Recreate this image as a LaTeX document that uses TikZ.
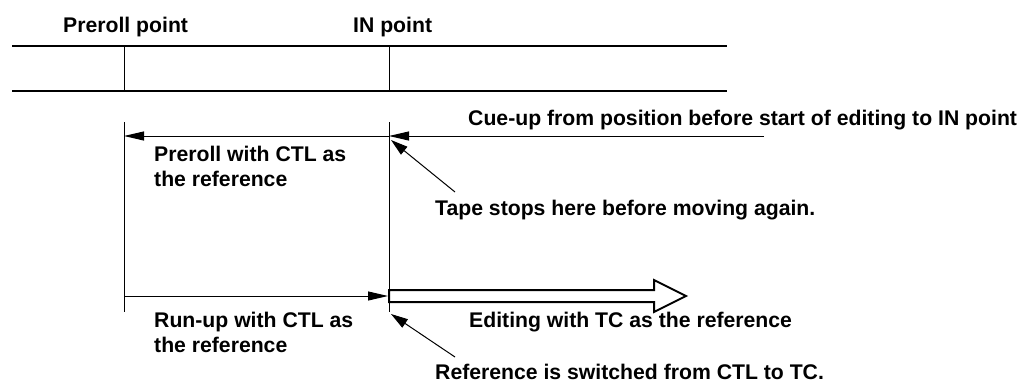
\documentclass[tikz,border=0pt]{standalone}
\usepackage{fontspec}
\setmainfont{Liberation Sans}
\usetikzlibrary{arrows.meta}
\newcommand\twolines[2]{\vtop{\hbox{#1}\hbox{#2}}}
\begin{document}
\begin{tikzpicture}[x=1pt,y=-1pt,
  lbl/.style={anchor=base west,inner sep=0pt,font=\fontsize{21.2}{25}\selectfont\bfseries},
  thickline/.style={line width=2pt},
  thinline/.style={line width=1pt},
  harrow/.style={line width=1pt,-{Triangle[length=20pt,width=9pt]}},
  darrow/.style={line width=1pt,-{Triangle[length=17pt,width=10pt]}},
  openarrow/.style={line width=2pt,fill=white,line join=miter}
]
\useasboundingbox (0,0) rectangle (1021,383);

% tape band
\coordinate (tl) at (12,45.5);
\coordinate (tr) at (727,45.5);
\coordinate (bl) at (12,91);
\coordinate (br) at (727,91);
\coordinate (pt) at (124,45.5);
\coordinate (pb) at (124,91);
\coordinate (it) at (389,45.5);
\coordinate (ib) at (389,91);
\draw[thickline] (tl) -- (tr);
\draw[thickline] (bl) -- (br);
\draw[thinline] (pt) -- (pb);
\draw[thinline] (it) -- (ib);

\node[lbl] (prerollpoint) at (63,32) {Preroll point};
\node[lbl] (inpoint) at (353,32) {IN point};

% lower verticals
\coordinate (pv1) at (124,122);
\coordinate (pv2) at (124,312);
\coordinate (iv1) at (389,122);
\coordinate (iv2) at (389,312);
\draw[thinline] (pv1) -- (pv2);
\draw[thinline] (iv1) -- (iv2);

% cue-up and preroll arrows
\coordinate (cuestart) at (764,136);
\coordinate (cueend) at (389,136);
\coordinate (prerollend) at (124,136);
\draw[harrow] (cuestart) -- (cueend);
\draw[harrow] (cueend) -- (prerollend);
\node[lbl] (cuetext) at (468,125) {Cue-up from position before start of editing to IN point};
\node[lbl] (prerolltext) at (154,161) {\twolines{Preroll with CTL as}{the reference}};

% tape stops
\coordinate (tapetail) at (455,192);
\coordinate (tapetip) at (391,140);
\draw[darrow] (tapetail) -- (tapetip);
\node[lbl] (tapetext) at (435,215) {Tape stops here before moving again.};

% run-up arrow
\coordinate (runstart) at (124,296);
\coordinate (runend) at (388,296);
\draw[harrow] (runstart) -- (runend);
\node[lbl] (runtext) at (154,327) {\twolines{Run-up with CTL as}{the reference}};

% open editing arrow
\draw[openarrow] (389,290) -- (654,290) -- (654,280) -- (686,296) -- (654,312) -- (654,302) -- (389,302) -- cycle;
\node[lbl] (edittext) at (469,327) {Editing with TC as the reference};

% reference switched
\coordinate (reftail) at (455,357);
\coordinate (reftip) at (391,314);
\draw[darrow] (reftail) -- (reftip);
\node[lbl] (reftext) at (435,379) {Reference is switched from CTL to TC.};
\end{tikzpicture}
\end{document}
